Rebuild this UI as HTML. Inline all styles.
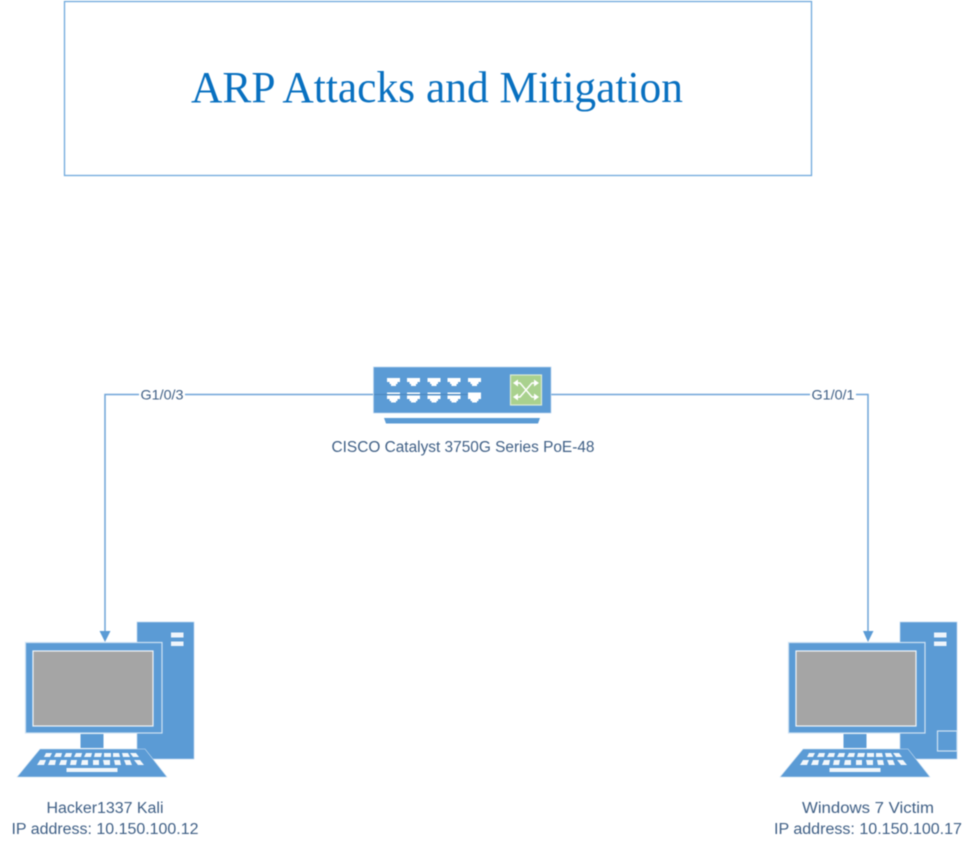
<!DOCTYPE html>
<html>
<head>
<meta charset="utf-8">
<style>
html,body{margin:0;padding:0;background:#fff;}
svg{display:block;filter:blur(0.4px);}
text{font-family:"Liberation Sans",sans-serif;fill:#3f5f85;font-size:15.500px;}
</style>
</head>
<body>
<svg width="972" height="849" viewBox="0 0 972 849" xmlns="http://www.w3.org/2000/svg">
<defs>
<g id="pc">
  <rect x="137" y="622" width="57" height="137" fill="#5b9bd5" stroke="#bcd6ee" stroke-width="0.7"/>
  <rect x="171" y="632.500" width="12.500" height="5" fill="#fff" opacity=".9"/>
  <rect x="171" y="641.500" width="12.500" height="4.500" fill="#fff" opacity=".9"/>
  <rect x="25.500" y="642.500" width="136.500" height="90.500" fill="#5b9bd5" stroke="#cfe2f3" stroke-width="1.200"/>
  <rect x="33" y="651" width="120" height="75" fill="#a5a5a5" stroke="#f0f4f8" stroke-width="1.200"/>
  <rect x="80.500" y="734" width="23" height="14" fill="#5b9bd5"/>
  <polygon points="40,749 145,749 167,777 17,777" fill="#5b9bd5" stroke="#cfe2f3" stroke-width="0.600"/>
  <g fill="#fff" opacity=".92">
    <polygon points="46,753 52,753 50,757 44,757"/><polygon points="56,753 62,753 61,757 54,757"/>
    <polygon points="66,753 72,753 71,757 64,757"/><polygon points="76,753 82,753 81,757 74,757"/>
    <polygon points="86,753 92,753 91,757 84,757"/><polygon points="95,753 102,753 101,757 94,757"/>
    <polygon points="104,753 111,753 111,757 104,757"/><polygon points="113,753 119,753 120,757 113,757"/>
    <polygon points="122,753 128,753 130,757 123,757"/><polygon points="130,753 136,753 139,757 133,757"/>
    <polygon points="40,760 46,760 44,765 37,765"/><polygon points="50,760 56,760 55,765 48,765"/>
    <polygon points="61,760 67,760 66,765 59,765"/><polygon points="71,760 77,760 76,765 70,765"/>
    <polygon points="82,760 88,760 88,765 81,765"/><polygon points="93,760 99,760 99,765 93,765"/>
    <polygon points="103,760 110,760 110,765 104,765"/><polygon points="114,760 120,760 121,765 115,765"/>
    <polygon points="124,760 130,760 132,765 126,765"/><polygon points="134,760 140,760 144,765 138,765"/>
    <rect x="66.500" y="768" width="51" height="4"/>
  </g>
</g>
</defs>

<rect x="64.500" y="1.500" width="747" height="174" fill="#fff" stroke="#6fa8dc" stroke-width="1.300"/>
<text x="437" y="102" text-anchor="middle" textLength="492" lengthAdjust="spacingAndGlyphs" style="font-family:'Liberation Serif',serif;font-size:44px;fill:#0870c0">ARP Attacks and Mitigation</text>

<g stroke="#6fa4d8" stroke-width="1.500" fill="none">
  <polyline points="373,394.500 105,394.500 105,632"/>
  <polyline points="551,394.500 868,394.500 868,632"/>
</g>
<polygon points="99.500,631 110.500,631 105,642" fill="#5b9bd5"/>
<polygon points="863,631 873.500,631 868,642" fill="#5b9bd5"/>

<rect x="139" y="386" width="46" height="17" fill="#fff"/>
<rect x="810" y="386" width="46" height="17" fill="#fff"/>
<text x="162" y="399.500" text-anchor="middle" textLength="43" lengthAdjust="spacingAndGlyphs" style="font-size:14px">G1/0/3</text>
<text x="833" y="399.500" text-anchor="middle" textLength="43" lengthAdjust="spacingAndGlyphs" style="font-size:14px">G1/0/1</text>

<!-- switch -->
<rect x="373.500" y="367" width="177.500" height="46" fill="#5b9bd5" stroke="#bcd6ee" stroke-width="0.700"/>
<line x1="374" y1="394.500" x2="470" y2="394.500" stroke="#4a86bd" stroke-width="1"/>
<polygon points="384,418 540,418 538,423.500 386,423.500" fill="#5b9bd5"/>
<g fill="#fff">
  <path d="M387 378h13v4h-2.500v2h-1.500v2h-5v-2h-1.500v-2h-2.500z"/>
  <path d="M407 378h13v4h-2.500v2h-1.500v2h-5v-2h-1.500v-2h-2.500z"/>
  <path d="M427.500 378h13v4h-2.500v2h-1.500v2h-5v-2h-1.500v-2h-2.500z"/>
  <path d="M447.500 378h13v4h-2.500v2h-1.500v2h-5v-2h-1.500v-2h-2.500z"/>
  <path d="M468 378h13v4h-2.500v2h-1.500v2h-5v-2h-1.500v-2h-2.500z"/>
  <path d="M387 392.500h13v1.500h-13zM387 395.500h13v3.500h-2.500v2h-1.500v1.500h-5v-1.500h-1.500v-2h-2.500z"/>
  <path d="M407 392.500h13v1.500h-13zM407 395.500h13v3.500h-2.500v2h-1.500v1.500h-5v-1.500h-1.500v-2h-2.500z"/>
  <path d="M427.500 392.500h13v1.500h-13zM427.500 395.500h13v3.500h-2.500v2h-1.500v1.500h-5v-1.500h-1.500v-2h-2.500z"/>
  <path d="M447.500 392.500h13v1.500h-13zM447.500 395.500h13v3.500h-2.500v2h-1.500v1.500h-5v-1.500h-1.500v-2h-2.500z"/>
  <path d="M468 392.500h13v6.500h-2.500v2h-1.500v1.500h-5v-1.500h-1.500v-2h-2.500z"/>
</g>
<rect x="510.500" y="375" width="31" height="30" fill="#a9d18e" stroke="#dcebd3" stroke-width="1.200"/>
<g stroke="#fff" stroke-width="1.400" fill="none">
  <path d="M515 383h5l12 14h5"/>
  <path d="M515 397h5l12-14h5"/>
</g>
<g fill="#fff">
  <polygon points="513,383 518,379.500 518,386.500"/><polygon points="539,383 534,379.500 534,386.500"/>
  <polygon points="513,397 518,393.500 518,400.500"/><polygon points="539,397 534,393.500 534,400.500"/>
</g>
<text x="463" y="452" text-anchor="middle" textLength="263" lengthAdjust="spacingAndGlyphs">CISCO Catalyst 3750G Series PoE-48</text>

<use href="#pc"/>
<use href="#pc" x="763"/>
<rect x="937.500" y="731" width="19.500" height="20" fill="none" stroke="#cfe2f3" stroke-width="1.200"/>

<text x="105" y="813" text-anchor="middle" textLength="117" lengthAdjust="spacingAndGlyphs">Hacker1337 Kali</text>
<text x="105" y="834" text-anchor="middle" textLength="187" lengthAdjust="spacingAndGlyphs">IP address: 10.150.100.12</text>
<text x="868" y="813" text-anchor="middle" textLength="132" lengthAdjust="spacingAndGlyphs">Windows 7 Victim</text>
<text x="868" y="834" text-anchor="middle" textLength="188" lengthAdjust="spacingAndGlyphs">IP address: 10.150.100.17</text>
</svg>
</body>
</html>
